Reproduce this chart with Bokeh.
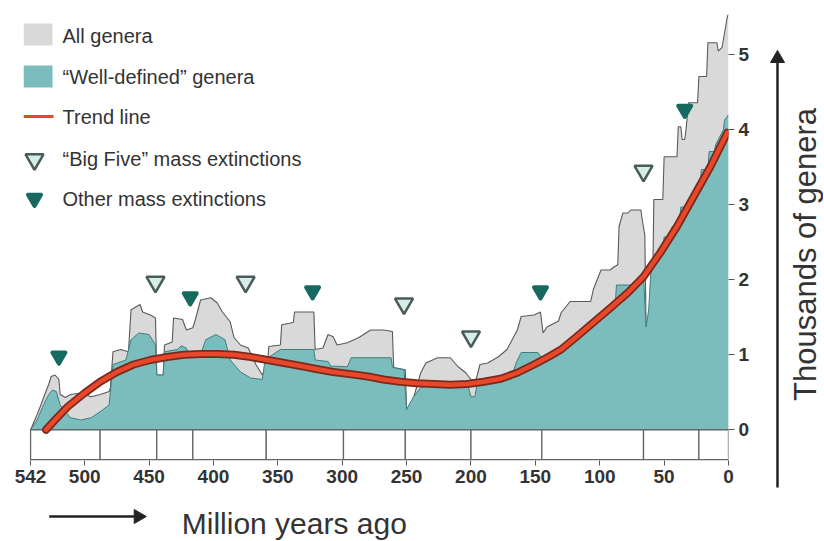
import math
from bokeh.plotting import figure
from bokeh.layouts import row, column
from bokeh.models import Range1d, FixedTicker
from bokeh.core.properties import value
from bokeh.embed import file_html
from bokeh.resources import INLINE

# ---------------- data (ages in million years ago, values in thousands of genera)
all_age = [542, 537, 534, 531, 528, 526, 523, 520, 519, 515, 511, 503, 495, 488, 481, 480,
           478, 472, 466, 464, 457, 455, 449, 445, 444, 439, 438, 432, 431, 424, 421, 416,
           414, 410, 402, 397, 393, 387, 384, 379, 373, 367, 362, 358, 357, 348, 347, 338,
           337, 322, 321, 315, 311, 307, 304, 296, 287, 278, 268, 261, 260, 251, 250, 245,
           239, 235, 226, 216, 210, 204, 200, 196, 193, 187, 179, 172, 164, 161, 151, 146,
           144, 141, 132, 130, 123, 107, 105, 99, 92, 89, 86, 85, 82, 78, 76, 68,
           67, 65, 64, 60, 59, 58, 51, 50, 40, 39, 37, 36, 34, 33, 31, 24,
           23, 17, 16, 9, 8, 5, 3, 1, 0]
all_val = [0.00, 0.20, 0.33, 0.47, 0.60, 0.71, 0.73, 0.67, 0.47, 0.43, 0.47, 0.49, 0.44, 0.47, 0.51, 0.56,
           1.04, 1.07, 1.04, 1.60, 1.67, 1.57, 1.53, 1.49, 0.73, 0.73, 1.13, 1.17, 1.49, 1.47, 1.33, 1.36,
           1.47, 1.73, 1.76, 1.69, 1.57, 1.44, 1.23, 1.13, 1.09, 0.87, 0.73, 0.87, 1.11, 1.13, 1.40, 1.43,
           1.57, 1.57, 1.07, 1.09, 1.27, 1.24, 1.13, 1.16, 1.23, 1.33, 1.33, 1.31, 0.83, 0.80, 0.27, 0.40,
           0.76, 0.89, 0.96, 0.96, 0.84, 0.76, 0.67, 0.67, 0.87, 0.89, 0.97, 1.07, 1.33, 1.51, 1.53, 1.57,
           1.29, 1.37, 1.45, 1.56, 1.71, 1.71, 1.87, 2.13, 2.13, 2.17, 2.20, 2.71, 2.89, 2.89, 2.93, 2.93,
           2.80, 2.60, 1.37, 1.60, 1.73, 3.07, 3.07, 3.64, 3.64, 4.04, 4.04, 3.87, 3.87, 4.00, 4.36, 4.36,
           4.71, 4.71, 5.16, 5.16, 5.05, 5.10, 5.30, 5.50, 5.55]

well_age = [542, 537, 532, 528, 525, 522, 519, 515, 511, 503, 495, 488, 481, 478, 468, 464,
            458, 450, 445, 444, 439, 438, 428, 425, 421, 419, 410, 406, 398, 391, 387, 379,
            371, 362, 360, 348, 322, 321, 311, 309, 296, 293, 262, 261, 252, 250, 245, 239,
            231, 203, 200, 197, 195, 169, 165, 161, 148, 144, 130, 115, 105, 92, 88, 87,
            71, 70, 66, 64, 62, 60, 57, 51, 50, 45, 44, 38, 37, 32, 31, 22,
            21, 16, 15, 11, 10, 4, 3, 0]
well_val = [0.00, 0.13, 0.33, 0.47, 0.53, 0.51, 0.33, 0.24, 0.16, 0.13, 0.16, 0.24, 0.33, 0.87, 0.93, 1.20,
            1.29, 1.27, 1.13, 0.73, 0.73, 1.04, 1.07, 1.12, 1.09, 1.00, 1.00, 1.20, 1.27, 1.20, 0.93, 0.77,
            0.69, 0.67, 0.93, 1.07, 1.07, 0.93, 0.91, 0.85, 0.84, 0.96, 0.96, 0.83, 0.80, 0.27, 0.43, 0.56,
            0.63, 0.63, 0.44, 0.44, 0.63, 0.67, 0.89, 1.03, 1.03, 0.93, 1.05, 1.25, 1.40, 1.60, 1.66, 1.93,
            1.93, 2.00, 2.05, 1.37, 1.60, 2.20, 2.30, 2.45, 2.57, 2.57, 2.70, 2.80, 2.97, 2.97, 3.05, 3.30,
            3.47, 3.47, 3.71, 3.71, 3.80, 4.00, 4.13, 4.20]

trend_age = [530, 522, 513, 500, 488, 475, 462, 449, 436, 423, 410, 397, 384, 371, 358, 345,
             332, 320, 307, 293, 280, 268, 255, 242, 229, 216, 203, 190, 177, 164, 151, 140,
             130, 118, 105, 92, 78, 66, 53, 40, 27, 14, 1]
trend_val = [0.00, 0.15, 0.31, 0.49, 0.64, 0.77, 0.87, 0.93, 0.97, 1.00, 1.01, 1.01, 1.00, 0.97, 0.93, 0.89,
             0.85, 0.81, 0.77, 0.74, 0.71, 0.67, 0.64, 0.62, 0.61, 0.60, 0.61, 0.64, 0.68, 0.76, 0.87, 0.97,
             1.07, 1.24, 1.43, 1.62, 1.83, 2.04, 2.36, 2.71, 3.11, 3.51, 3.96]

big_five_age = [445, 375, 252, 200, 66]
big_five_val = [1.97, 1.97, 1.68, 1.24, 3.45]
other_age = [520, 418, 323, 146, 34]
other_val = [0.98, 1.77, 1.85, 1.85, 4.27]

period_bounds = [542, 488, 444, 416, 359, 299, 251, 200, 145, 66, 23, 0]
x_ticks = [542, 500, 450, 400, 350, 300, 250, 200, 150, 100, 50, 0]
y_ticks = [0, 1, 2, 3, 4, 5]

legend_labels = ["All genera", "\u201cWell-defined\u201d genera", "Trend line",
                 "\u201cBig Five\u201d mass extinctions", "Other mass extinctions"]
x_title = "Million years ago"
y_title = "Thousands of genera"

# ---------------- colours
GRAY = "#d9d9d9"
GRAY_LINE = "#5a5a5a"
TEAL = "#7bbcbd"
TEAL_LINE = "#3e7f80"
RED = "#e8472a"
RED_DARK = "#7a2a1c"
BIG5_FILL = "#d6ede8"
BIG5_LINE = "#4a5c59"
OTHER = "#176a60"
TXT = "#333333"
ARROW = "#222222"
FONT = "Liberation Sans"


def strip(w, h):
    f = figure(width=w, height=h, output_backend="svg", toolbar_location=None,
               x_range=Range1d(0, w), y_range=Range1d(0, h),
               x_axis_location=None, y_axis_location=None, min_border=0)
    f.outline_line_color = None
    f.grid.visible = False
    f.background_fill_color = "white"
    f.border_fill_color = "white"
    return f


p = figure(width=768, height=500, output_backend="svg", toolbar_location=None,
           x_range=Range1d(547.5, 0), y_range=Range1d(-0.41, 5.537),
           x_axis_location="below", y_axis_location="right",
           min_border_left=23, min_border_right=40, min_border_top=14, min_border_bottom=40)
p.outline_line_color = None
p.grid.visible = False
p.background_fill_color = "white"
p.border_fill_color = "white"

p.extra_x_ranges = {"px": Range1d(0, 705)}
p.extra_y_ranges = {"px": Range1d(0, 446)}

# areas
p.varea(x=all_age, y1=0, y2=all_val, fill_color=GRAY)
p.line(all_age, all_val, line_color=GRAY_LINE, line_width=1.1)
p.varea(x=well_age, y1=0, y2=well_val, fill_color=TEAL)
p.line(well_age, well_val, line_color=TEAL_LINE, line_width=1.0)

# geological period band
p.quad(left=period_bounds[:-1], right=period_bounds[1:], bottom=-0.4, top=0,
       fill_color="white", line_color="#666666", line_width=1.3)

# trend
p.line(trend_age, trend_val, line_color=RED_DARK, line_width=8, line_cap="round", line_join="round")
p.line(trend_age, trend_val, line_color=RED, line_width=4.5, line_cap="round", line_join="round")

# extinctions
p.scatter(big_five_age, big_five_val, marker="inverted_triangle", size=18,
          fill_color=BIG5_FILL, line_color=BIG5_LINE, line_width=2.5)
p.scatter(other_age, other_val, marker="inverted_triangle", size=13,
          fill_color=OTHER, line_color=OTHER, line_width=4, line_join="round")

# axes
xa = p.xaxis[0]
xa.ticker = FixedTicker(ticks=x_ticks)
xa.axis_line_color = None
xa.major_tick_line_color = "#555555"
xa.major_tick_out = 5
xa.major_tick_in = 0
xa.minor_tick_line_color = None
xa.major_label_text_font = FONT
xa.major_label_text_font_size = "19px"
xa.major_label_text_font_style = "bold"
xa.major_label_text_color = TXT
xa.major_label_standoff = 4

ya = p.yaxis[0]
ya.ticker = FixedTicker(ticks=y_ticks)
ya.axis_line_color = None
ya.major_tick_line_color = "#555555"
ya.major_tick_out = 6
ya.major_tick_in = 0
ya.minor_tick_line_color = None
ya.major_label_text_font = FONT
ya.major_label_text_font_size = "19px"
ya.major_label_text_font_style = "bold"
ya.major_label_text_color = TXT
ya.major_label_standoff = 4

# legend (drawn in frame pixel coordinates)
p.quad(left=[0], right=[29], bottom=[415], top=[437], fill_color=GRAY, line_color=None,
       x_range_name="px", y_range_name="px")
p.quad(left=[0], right=[29], bottom=[373], top=[395], fill_color=TEAL, line_color=None,
       x_range_name="px", y_range_name="px")
p.line([0, 30], [344, 344], line_color=RED, line_width=3, x_range_name="px", y_range_name="px")
p.scatter([11], [301], marker="inverted_triangle", size=18, fill_color=BIG5_FILL,
          line_color=BIG5_LINE, line_width=2.5, x_range_name="px", y_range_name="px")
p.scatter([11], [262], marker="inverted_triangle", size=13, fill_color=OTHER,
          line_color=OTHER, line_width=4, line_join="round", x_range_name="px", y_range_name="px")
p.text(x=[39] * 5, y=[425, 384, 344, 302, 262], text=legend_labels,
       text_font=value(FONT), text_font_size="20px", text_color=TXT,
       text_baseline="middle", text_align="left", x_range_name="px", y_range_name="px")

# bottom strip: arrow + x title
q = strip(768, 40)
q.segment(x0=[28], y0=[24], x1=[121], y1=[24], line_color=ARROW, line_width=2.5)
q.scatter([125], [24], marker="triangle", size=14, angle=-math.pi / 2,
          fill_color=ARROW, line_color=ARROW)
q.text(x=[295], y=[17], text=[x_title], text_font=value(FONT), text_font_size="30px",
       text_color=TXT, text_align="center", text_baseline="middle")

# right strip: arrow + y title
r = strip(55, 540)
r.segment(x0=[9], y0=[53], x1=[9], y1=[478], line_color=ARROW, line_width=2.5)
r.scatter([9], [482], marker="triangle", size=14, fill_color=ARROW, line_color=ARROW)
r.text(x=[37], y=[286], text=[y_title], angle=math.pi / 2, text_font=value(FONT),
       text_font_size="31px", text_color=TXT, text_align="center", text_baseline="middle")

layout = row(column(p, q), r)
open("out.html", "w").write(file_html(layout, INLINE))
